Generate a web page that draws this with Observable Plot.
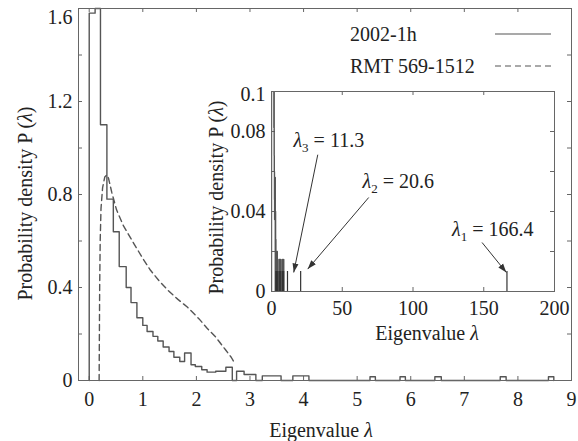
<!DOCTYPE html>
<html>
<head>
<meta charset="utf-8">
<script src="https://cdn.jsdelivr.net/npm/d3@7"></script>
<script src="https://cdn.jsdelivr.net/npm/@observablehq/plot@0.6"></script>
<style>
  html, body { margin: 0; padding: 0; background: #fff; }
  #wrap { position: relative; width: 578px; height: 441px; overflow: hidden; }
  #wrap > div, #wrap > svg { position: absolute; }
  svg text { font-family: "Liberation Serif", "Times New Roman", serif; }
</style>
</head>
<body>
<div id="wrap">
  <div id="main" style="left:0;top:0"></div>
  <div id="inset"></div>
  <svg id="legend" width="578" height="100" style="left:0;top:0"></svg>
</div>
<script>
// ---------------- data ----------------
// Empirical histogram "2002-1h": left edge of each step and the density held until the next edge
const histEdge = [0, 0.11, 0.21, 0.33, 0.45, 0.56, 0.69, 0.78, 0.89, 1.0, 1.08, 1.19, 1.28, 1.38, 1.49,
  1.58, 1.69, 1.78, 1.9, 1.98, 2.1, 2.2, 2.36, 2.55, 2.67, 2.75, 2.89, 3.11, 3.23, 3.58, 3.8, 4.1,
  5.24, 5.34, 5.8, 5.9, 6.45, 6.57, 7.67, 7.78, 8.57, 8.67];
const histDensity = [1.58, 1.6, 1.1, 0.78, 0.64, 0.49, 0.40, 0.335, 0.27, 0.237, 0.211, 0.19, 0.17, 0.144, 0.125,
  0.10, 0.082, 0.118, 0.068, 0.06, 0.046, 0.036, 0.04, 0.057, 0, 0.04, 0.026, 0, 0.02, 0, 0.02, 0,
  0.016, 0, 0.016, 0, 0.016, 0, 0.016, 0, 0.016, 0];

// RMT curve "RMT 569-1512"
const rmtLambda = [0.185, 0.19, 0.195, 0.205, 0.22, 0.25, 0.29, 0.33, 0.36, 0.42, 0.51, 0.64, 0.83, 1.0, 1.14,
  1.3, 1.46, 1.65, 1.83, 2.05, 2.2, 2.36, 2.55, 2.65, 2.72];
const rmtDensity = [0, 0.2, 0.4, 0.6, 0.74, 0.83, 0.875, 0.885, 0.87, 0.81, 0.734, 0.665, 0.59, 0.525, 0.475,
  0.43, 0.39, 0.35, 0.316, 0.265, 0.225, 0.187, 0.13, 0.10, 0.072];

// Inset: isolated large eigenvalues and their density
const insetLambda = [3.2, 3.4, 3.5, 3.9, 4.0, 5.3, 5.85, 6.5, 7.7, 8.6, 11.3, 20.6, 166.4];
const insetDensity = [0.01, 0.01, 0.01, 0.01, 0.01, 0.01, 0.01, 0.01, 0.01, 0.01, 0.01, 0.01, 0.01];

// Inset annotations
const annoLabel = ["λ_3 = 11.3", "λ_2 = 20.6", "λ_1 = 166.4"];
const annoTextX = [15.5, 64.3, 127.6];
const annoTextY = [0.0754, 0.0551, 0.0312];
const arrowFromX = [32.7, 68.7, 148.8];
const arrowFromY = [0.0684, 0.047, 0.0245];
const arrowToX = [15.7, 25.6, 166.0];
const arrowToY = [0.0095, 0.0112, 0.0095];

// Ticks
const mainXTicks = [0, 1, 2, 3, 4, 5, 6, 7, 8, 9];
const mainYLabels = [0, 0.4, 0.8, 1.2];
const mainYTopLabel = [1.6];
const mainYTicks = [0.2, 0.4, 0.6, 0.8, 1.0, 1.2, 1.4];
const insetXLabels = [0, 50, 100, 150, 200];
const insetXTicks = [50, 100, 150];
const insetYLabels = [0, 0.04, 0.08];
const insetYTopLabel = [0.1];
const insetYTicks = [0.02, 0.04, 0.06, 0.08];

// Legend
const legendLabels = ["2002-1h", "RMT 569-1512"];
const legendDash = [null, "6,4"];

// ---------------- build tables ----------------
const histPoints = [{x: histEdge[0], y: 0}].concat(histEdge.map((x, i) => ({x, y: histDensity[i]})));
const rmtPoints = rmtLambda.map((x, i) => ({x, y: rmtDensity[i]}));
const spikes = insetLambda.map((x, i) => ({x, y: insetDensity[i]}));
const annos = annoLabel.map((label, i) => ({
  label, tx: annoTextX[i], ty: annoTextY[i],
  x1: arrowFromX[i], y1: arrowFromY[i], x2: arrowToX[i], y2: arrowToY[i]
}));

const FONT = '"Liberation Serif", "Times New Roman", serif';
const FS = 20;
const INK = "#222";
const LINE = "#555";
const FRAME = "#666";
const fmt = d => String(d);

function filledArrow(color) {
  const m = d3.create("svg:marker")
    .attr("viewBox", "-9 -3.5 9 7")
    .attr("markerWidth", 9).attr("markerHeight", 7)
    .attr("markerUnits", "userSpaceOnUse")
    .attr("orient", "auto")
    .attr("fill", color).attr("stroke", "none");
  m.append("path").attr("d", "M-9,-3L0,0L-9,3Z");
  return m.node();
}

// ---------------- main chart ----------------
const mW = 578, mH = 441, mL = 78, mR = 7, mT = 8, mB = 61;
const pW = mW - mL - mR, pH = mH - mT - mB;
const main = Plot.plot({
  width: mW, height: mH,
  marginLeft: mL, marginRight: mR, marginTop: mT, marginBottom: mB,
  style: {fontFamily: FONT, fontSize: FS + "px", color: INK, background: "transparent", overflow: "visible"},
  x: {domain: [-0.2, 9]},
  y: {domain: [0, 1.6]},
  marks: [
    Plot.tickX(mainXTicks, {x: d => d, insetTop: pH - 4, stroke: FRAME}),
    Plot.tickX(mainXTicks, {x: d => d, insetBottom: pH - 4, stroke: FRAME}),
    Plot.tickY(mainYTicks, {y: d => d, insetRight: pW - 4, stroke: FRAME}),
    Plot.tickY(mainYTicks, {y: d => d, insetLeft: pW - 4, stroke: FRAME}),
    Plot.axisX(mainXTicks, {tickSize: 0, tickPadding: 11, label: null, fontSize: FS, tickFormat: fmt}),
    Plot.axisY(mainYLabels, {tickSize: 0, tickPadding: 6, label: null, fontSize: FS, tickFormat: fmt}),
    Plot.axisY(mainYTopLabel, {tickSize: 0, tickPadding: 6, label: null, fontSize: FS, tickFormat: fmt, dy: 9}),
    Plot.line(histPoints, {x: "x", y: "y", curve: "step-after", stroke: LINE, strokeWidth: 1.4}),
    Plot.line(rmtPoints, {x: "x", y: "y", stroke: LINE, strokeWidth: 1.4, strokeDasharray: "6,4"}),
    Plot.frame({stroke: FRAME}),
    Plot.text(["Eigenvalue λ"], {frameAnchor: "bottom", lineAnchor: "middle", dy: 50, dx: -4, fontSize: FS, fill: INK}),
    Plot.text(["Probability density P (λ)"], {frameAnchor: "left", textAnchor: "middle", lineAnchor: "middle", rotate: -90, dx: -53, dy: 9, fontSize: FS, fill: INK})
  ]
});
document.getElementById("main").appendChild(main);

// ---------------- inset chart ----------------
const iL = 60, iR = 10, iT = 10, iB = 50;
const ipW = 283, ipH = 200;
const iW = ipW + iL + iR, iH = ipH + iT + iB;
const inset = Plot.plot({
  width: iW, height: iH,
  marginLeft: iL, marginRight: iR, marginTop: iT, marginBottom: iB,
  style: {fontFamily: FONT, fontSize: FS + "px", color: INK, background: "transparent", overflow: "visible"},
  x: {domain: [0, 200]},
  y: {domain: [0, 0.1]},
  marks: [
    Plot.frame({fill: "white", stroke: "none"}),
    Plot.tickX(insetXTicks, {x: d => d, insetTop: ipH - 4, stroke: FRAME}),
    Plot.tickX(insetXTicks, {x: d => d, insetBottom: ipH - 4, stroke: FRAME}),
    Plot.tickY(insetYTicks, {y: d => d, insetRight: ipW - 4, stroke: FRAME}),
    Plot.tickY(insetYTicks, {y: d => d, insetLeft: ipW - 4, stroke: FRAME}),
    Plot.axisX(insetXLabels, {tickSize: 0, tickPadding: 9, label: null, fontSize: FS, tickFormat: fmt}),
    Plot.axisY(insetYLabels, {tickSize: 0, tickPadding: 6, label: null, fontSize: FS, tickFormat: fmt}),
    Plot.axisY(insetYTopLabel, {tickSize: 0, tickPadding: 6, label: null, fontSize: FS, tickFormat: fmt, dy: 3}),
    Plot.line(histPoints, {x: "x", y: "y", curve: "step-after", stroke: LINE, strokeWidth: 1.4, clip: true}),
    Plot.ruleX(spikes, {x: "x", y1: 0, y2: "y", stroke: "#333", strokeWidth: 1.2}),
    Plot.link(annos, {x1: "x1", y1: "y1", x2: "x2", y2: "y2", stroke: "#333", strokeWidth: 1, markerEnd: filledArrow}),
    Plot.text(annos, {x: "tx", y: "ty", text: "label", textAnchor: "start", fontSize: FS, fill: INK}),
    Plot.frame({stroke: FRAME}),
    Plot.text(["Eigenvalue λ"], {frameAnchor: "bottom", lineAnchor: "middle", dy: 42, dx: 14, fontSize: FS, fill: INK}),
    Plot.text(["Probability density P (λ)"], {frameAnchor: "left", textAnchor: "middle", lineAnchor: "middle", rotate: -90, dx: -55, dy: 6, fontSize: FS, fill: INK})
  ]
});
const insetDiv = document.getElementById("inset");
insetDiv.style.left = (271 - iL) + "px";
insetDiv.style.top = (91 - iT) + "px";
insetDiv.appendChild(inset);

// ---------------- legend ----------------
const leg = d3.select("#legend");
legendLabels.forEach((lab, i) => {
  const cy = 34 + i * 32;
  leg.append("text").attr("x", 350).attr("y", cy).attr("dy", "0.35em")
    .attr("font-size", FS).attr("fill", INK).text(lab);
  const ln = leg.append("line").attr("x1", 495).attr("x2", 551).attr("y1", cy).attr("y2", cy)
    .attr("stroke", LINE).attr("stroke-width", 1.2);
  if (legendDash[i]) ln.attr("stroke-dasharray", legendDash[i]);
});

// ---------------- typographic post-processing: italic λ and subscripts ----------------
const NS = "http://www.w3.org/2000/svg";
function styleLambda(root) {
  root.querySelectorAll("text").forEach(t => {
    const targets = t.querySelectorAll("tspan").length ? Array.from(t.querySelectorAll("tspan")) : [t];
    targets.forEach(n => {
      const s = n.textContent;
      if (!s.includes("λ")) return;
      n.textContent = "";
      const re = /λ(?:_(\d))?/g;
      let last = 0, m, pendingShift = 0;
      const add = (txt, attrs) => {
        const ts = document.createElementNS(NS, "tspan");
        for (const k in attrs) ts.setAttribute(k, attrs[k]);
        ts.textContent = txt;
        n.appendChild(ts);
      };
      while ((m = re.exec(s))) {
        if (m.index > last) {
          const a = {};
          if (pendingShift) { a.dy = -pendingShift; pendingShift = 0; }
          add(s.slice(last, m.index), a);
        }
        const a = {"font-style": "italic"};
        if (pendingShift) { a.dy = -pendingShift; pendingShift = 0; }
        add("λ", a);
        if (m[1]) { add(m[1], {"font-size": FS * 0.65, dy: 5}); pendingShift = 5; }
        last = re.lastIndex;
      }
      if (last < s.length) {
        const a = {};
        if (pendingShift) { a.dy = -pendingShift; pendingShift = 0; }
        add(s.slice(last), a);
      }
    });
  });
}
styleLambda(document.getElementById("wrap"));
</script>
</body>
</html>
